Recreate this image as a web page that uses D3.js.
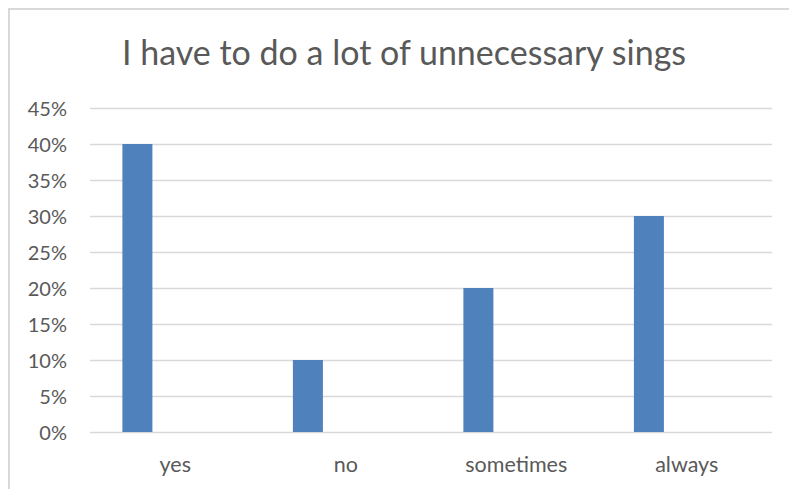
<!DOCTYPE html>
<html>
<head>
<meta charset="utf-8">
<script src="https://cdn.jsdelivr.net/npm/d3@7"></script>
<style>
  html, body { margin: 0; padding: 0; background: #fff; }
  svg { display: block; }
  text { font-family: Lato, "Open Sans", sans-serif; fill: #595959; }
</style>
</head>
<body>
<svg id="chart" width="789" height="489"></svg>
<script>
const title = "I have to do a lot of unnecessary sings";
const categories = ["yes", "no", "sometimes", "always"];
const values = [0.40, 0.10, 0.20, 0.30];
const yTicks = [0, 0.05, 0.10, 0.15, 0.20, 0.25, 0.30, 0.35, 0.40, 0.45];

const W = 789, H = 489;
const svg = d3.select("#chart");

// chart frame
svg.append("path")
  .attr("d", `M9,${H} L9,9 L${W},9`)
  .attr("fill", "none")
  .attr("stroke", "#d9d9d9")
  .attr("stroke-width", 2);

const plot = { left: 90, right: 772, top: 108, bottom: 432 };

const x = d3.scaleBand().domain(categories).range([plot.left, plot.right]).paddingInner(0).paddingOuter(0);
const y = d3.scaleLinear().domain([0, 0.45]).range([plot.bottom, plot.top]);

// gridlines
svg.append("g").selectAll("line").data(yTicks).join("line")
  .attr("x1", plot.left).attr("x2", plot.right)
  .attr("y1", d => Math.round(y(d)) + 0.5).attr("y2", d => Math.round(y(d)) + 0.5)
  .attr("stroke", "#d9d9d9").attr("stroke-width", 1.5);

// y axis labels
const yAxis = d3.axisLeft(y).tickValues(yTicks).tickFormat(d3.format(".0%")).tickSize(0).tickPadding(0);
const gy = svg.append("g").attr("transform", `translate(67,0)`).call(yAxis);
gy.select(".domain").remove();
gy.selectAll("text").attr("font-size", 20).attr("fill", "#595959")
  .style("font-family", "Lato, sans-serif").attr("dy", "0.35em");

// bars (left part of each category band)
const bw = x.bandwidth();
const barOffset = bw * 0.19, barWidth = bw * 0.176;
svg.append("g").selectAll("rect").data(values).join("rect")
  .attr("x", (d, i) => x(categories[i]) + barOffset)
  .attr("width", barWidth)
  .attr("y", d => y(d))
  .attr("height", d => y(0) - y(d))
  .attr("fill", "#4f81bd");

// x axis
const xAxis = d3.axisBottom(x).tickSize(0).tickPadding(0);
const gx = svg.append("g").attr("transform", `translate(0,${plot.bottom})`).call(xAxis);
gx.select(".domain").remove();
gx.selectAll("text").attr("font-size", 21.5).attr("fill", "#595959")
  .style("font-family", "Lato, sans-serif").attr("dy", 0).attr("y", 40);

// title
const t = svg.append("text")
  .attr("x", 404).attr("y", 65)
  .attr("text-anchor", "middle")
  .attr("font-size", 34)
  .text(title);
</script>
</body>
</html>
